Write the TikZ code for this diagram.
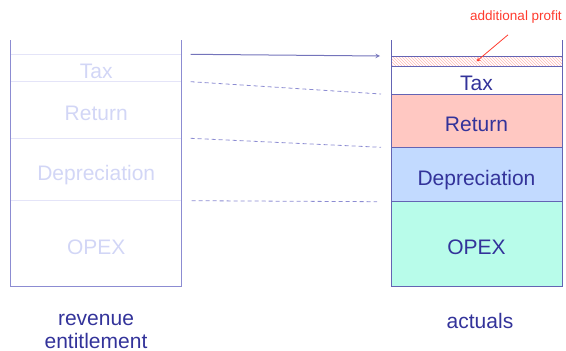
\documentclass[tikz,border=0pt]{standalone}
\usepackage{fontspec}
\setmainfont{Liberation Sans}
\usepackage{tikz}
\usetikzlibrary{arrows, positioning, patterns, calc}

\definecolor{frameblue}{HTML}{6464B4}
\definecolor{faintframe}{HTML}{8C8CD2}
\definecolor{faintline}{HTML}{E4E4F8}
\definecolor{faintText}{HTML}{D2D6F6}
\definecolor{darkText}{HTML}{33339A}
\definecolor{returnFill}{HTML}{FFC8C2}
\definecolor{deprFill}{HTML}{C2DAFF}
\definecolor{opexFill}{HTML}{B8FCEA}
\definecolor{profitRed}{HTML}{FF3B2E}

\begin{document}
\begin{tikzpicture}[
        x=1pt, y=-1pt,
        >=stealth,
        node distance=0pt,
        seg/.style={
            rectangle, outer sep=0pt, inner sep=0pt, minimum width=171pt
        },
        labelled/.style={
            font=\fontsize{21}{25}\selectfont, text height=21pt, text depth=0pt
        },
        actual/.style={seg, draw=frameblue, line width=1pt, text=darkText},
        entitled/.style={seg, labelled, text=faintText},
        caption/.style={font=\fontsize{21}{23}\selectfont, text=darkText, align=center},
        arrow/.style={->, line width=1pt, color=frameblue!90},
        guide/.style={dashed, line width=0.8pt, color=faintframe, dash pattern=on 4pt off 3pt},
        profitarrow/.style={->, thick, color=profitRed}
    ]
    \useasboundingbox (0,0) rectangle (566,351);

    % --- revenue entitlement (left) ---
    \node[seg, minimum height=14.3pt, anchor=north west] (ltop) at (10.7,40) {};
    \node[entitled, minimum height=27.4pt, below=of ltop] (ltax) {Tax};
    \node[entitled, minimum height=56.6pt, below=of ltax] (lreturn) {Return};
    \node[entitled, minimum height=62.4pt, below=of lreturn] (ldepr) {Depreciation};
    \node[entitled, minimum height=86pt, below=of ldepr] (lopex) {OPEX};

    \foreach \seg in {ltax, lreturn, ldepr, lopex}
        \draw[faintline, line width=1pt] (\seg.north west) -- (\seg.north east);
    \draw[faintframe, line width=1pt] (ltop.north west) -- (lopex.south west)
        -- (lopex.south east) -- (ltop.north east);

    % --- actuals (right) ---
    \node[seg, minimum height=16pt, anchor=north west] (rtop) at (391,40) {};
    \node[actual, minimum height=10.7pt, below=of rtop,
          pattern=north west lines, pattern color=profitRed!35] (rhatch) {};
    \node[actual, labelled, minimum height=27.3pt, below=of rhatch] (rtax) {Tax};
    \node[actual, labelled, fill=returnFill, minimum height=53.3pt, below=of rtax] (rreturn) {Return};
    \node[actual, labelled, fill=deprFill, minimum height=54.4pt, below=of rreturn] (rdepr) {Depreciation};
    \node[actual, labelled, fill=opexFill, minimum height=85pt, below=of rdepr] (ropex) {OPEX};
    \draw[frameblue, line width=1pt] (rtop.north west) -- (rhatch.north west)
        (rtop.north east) -- (rhatch.north east);

    \node[font=\fontsize{13.5}{16}\selectfont, text=profitRed] (profit) at (516,17) {additional profit};
    \draw[profitarrow] ([xshift=-8pt,yshift=-8pt]profit.south) -- (rhatch.center);

    % --- Connections ---
    \draw[arrow] ([xshift=9pt]ltax.north east) -- ([xshift=-11pt]rhatch.north west);
    \draw[guide] ([xshift=9pt]lreturn.north east) -- ([xshift=-10pt]rreturn.north west);
    \draw[guide] ([xshift=9pt]ldepr.north east) -- ([xshift=-10pt]rdepr.north west);
    \draw[guide] ([xshift=10pt]lopex.north east) -- ([xshift=-14pt]ropex.north west);

    % --- Captions ---
    \node[caption] (lcaption) at (96,331) {revenue\\entitlement};
    \node[caption] (rcaption) at (480,321) {actuals};
\end{tikzpicture}
\end{document}
